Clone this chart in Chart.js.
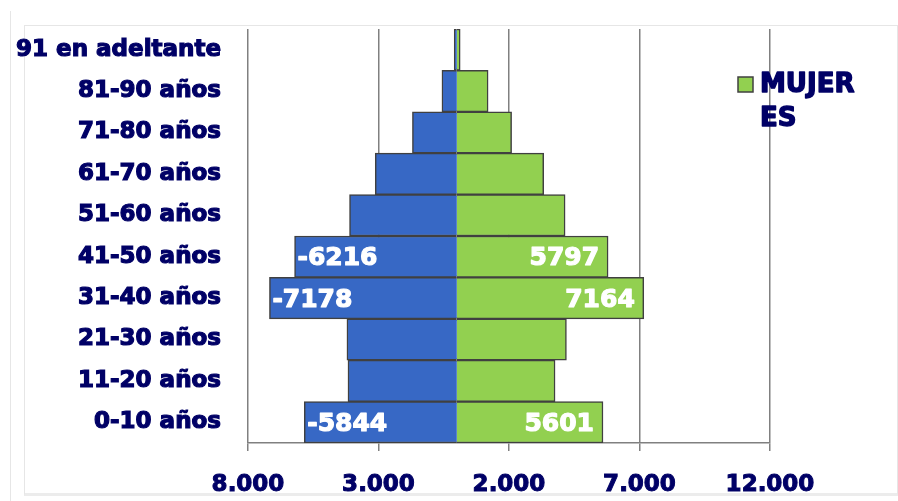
<!DOCTYPE html>
<html>
<head>
<meta charset="utf-8">
<title>Pirámide de población</title>
<script src="https://cdn.jsdelivr.net/npm/chart.js@4.4.1/dist/chart.umd.min.js"></script>
<style>
  html, body { margin: 0; padding: 0; background: #fff; }
  .wrap { position: relative; width: 898px; height: 501px; overflow: hidden; }
  .frame { position: absolute; left: 24px; top: 25px; width: 872px; height: 467px; border: 1px solid #e6e6e6; border-bottom: 3px solid #ececec; }
  .edge { position: absolute; left: 10px; top: 11px; width: 1px; height: 490px; background: #e6e6e6; }
  canvas { position: absolute; left: 0; top: 0; }
</style>
</head>
<body>
<div class="wrap">
  <div class="edge"></div>
  <div class="frame"></div>
  <canvas id="pyramidChart" width="898" height="501"></canvas>
</div>
<script>
// Age groups, from the bottom of the pyramid up
const ageGroups = ["0-10 años", "11-20 años", "21-30 años", "31-40 años", "41-50 años",
  "51-60 años", "61-70 años", "71-80 años", "81-90 años", "91 en adeltante"]
const hombres = [-5844, -4170, -4210, -7178, -6216, -4110, -3125, -1700, -570, -100]
const mujeres = [5601, 3765, 4200, 7164, 5797, 4150, 3330, 2100, 1200, 130]
// rows that show their value on the bar
const labeledRows = ["0-10 años", "31-40 años", "41-50 años"]
const xTicks = [-8000, -3000, 2000, 7000, 12000]

const navy = "#000066"
const fmt = (v) => String(Math.abs(v)).replace(/\B(?=(\d{3})+(?!\d))/g, ".")

// value labels inside the bar ends
const barValues = {
  id: "barValues",
  afterDatasetsDraw(chart) {
    const ctx = chart.ctx
    ctx.save()
    ctx.font = "bold 25px 'DejaVu Sans'"
    ctx.fillStyle = "#fff"
    ctx.strokeStyle = "#fff"
    ctx.lineWidth = 1.2
    ctx.lineJoin = "round"
    ctx.textBaseline = "middle"
    chart.data.datasets.forEach((ds, i) => {
      chart.getDatasetMeta(i).data.forEach((bar, j) => {
        if (!labeledRows.includes(ageGroups[j])) return
        const v = ds.data[j]
        const txt = String(v)
        let x = bar.x - 9
        ctx.textAlign = "right"
        if (v < 0) {
          ctx.textAlign = "left"
          x = bar.x + 3
        }
        ctx.strokeText(txt, x, bar.y + 2)
        ctx.fillText(txt, x, bar.y + 2)
      })
    })
    ctx.restore()
  },
}

// legend with only the women series, wrapped like the original
const wrapLegend = {
  id: "wrapLegend",
  afterDraw(chart) {
    const ctx = chart.ctx
    const ds = chart.data.datasets[1]
    ctx.save()
    ctx.fillStyle = ds.backgroundColor
    ctx.fillRect(738, 77, 15, 15)
    ctx.strokeStyle = "#404040"
    ctx.lineWidth = 1.5
    ctx.strokeRect(738, 77, 15, 15)
    ctx.font = "bold 26px 'DejaVu Sans'"
    ctx.fillStyle = navy
    ctx.strokeStyle = navy
    ctx.lineWidth = 1.4
    ctx.lineJoin = "round"
    ctx.textBaseline = "alphabetic"
    ctx.textAlign = "left"
    const lines = []
    let line = ""
    for (const ch of ds.label) {
      if (ctx.measureText(line + ch).width > 100) {
        lines.push(line)
        line = ch
      } else {
        line += ch
      }
    }
    lines.push(line)
    lines.forEach((l, k) => {
      ctx.strokeText(l, 760, 92 + k * 34)
      ctx.fillText(l, 760, 92 + k * 34)
    })
    ctx.restore()
  },
}

new Chart(document.getElementById("pyramidChart"), {
  type: "bar",
  data: {
    labels: ageGroups,
    datasets: [
      {
        label: "HOMBRES",
        data: hombres,
        backgroundColor: "#3768c5",
        borderColor: "#404040",
        borderWidth: 1.5,
      },
      {
        label: "MUJERES",
        data: mujeres,
        backgroundColor: "#92d050",
        borderColor: "#404040",
        borderWidth: 1.5,
      },
    ],
  },
  options: {
    indexAxis: "y",
    responsive: false,
    animation: false,
    barPercentage: 1,
    categoryPercentage: 1,
    layout: {
      padding: { top: 29, right: 128, bottom: 0, left: 0 },
    },
    plugins: {
      legend: { display: false },
      tooltip: { enabled: false },
    },
    scales: {
      x: {
        min: -8000,
        max: 12000,
        afterBuildTicks: (scale) => {
          scale.ticks = xTicks.map((v) => ({ value: v }))
        },
        afterFit: (scale) => {
          scale.height = 58
          scale.paddingLeft = 0
          scale.paddingRight = 0
        },
        grid: {
          color: "#808080",
          lineWidth: 1.5,
          tickLength: 8,
        },
        border: { color: "#808080", width: 1.5 },
        ticks: {
          callback: (value) => fmt(value),
          color: navy,
          padding: 20,
          maxRotation: 0,
          textStrokeColor: navy,
          textStrokeWidth: 1,
          font: { family: "'DejaVu Sans'", size: 23, weight: "bold" },
        },
      },
      y: {
        stacked: true,
        reverse: true,
        afterFit: (scale) => {
          scale.width = 248
          scale.paddingTop = 0
          scale.paddingBottom = 0
        },
        grid: { display: false },
        border: { display: false },
        ticks: {
          color: navy,
          padding: 19,
          textStrokeColor: navy,
          textStrokeWidth: 1.2,
          font: { family: "'DejaVu Sans'", size: 23, weight: "bold" },
        },
      },
    },
  },
  plugins: [barValues, wrapLegend],
})
</script>
</body>
</html>
